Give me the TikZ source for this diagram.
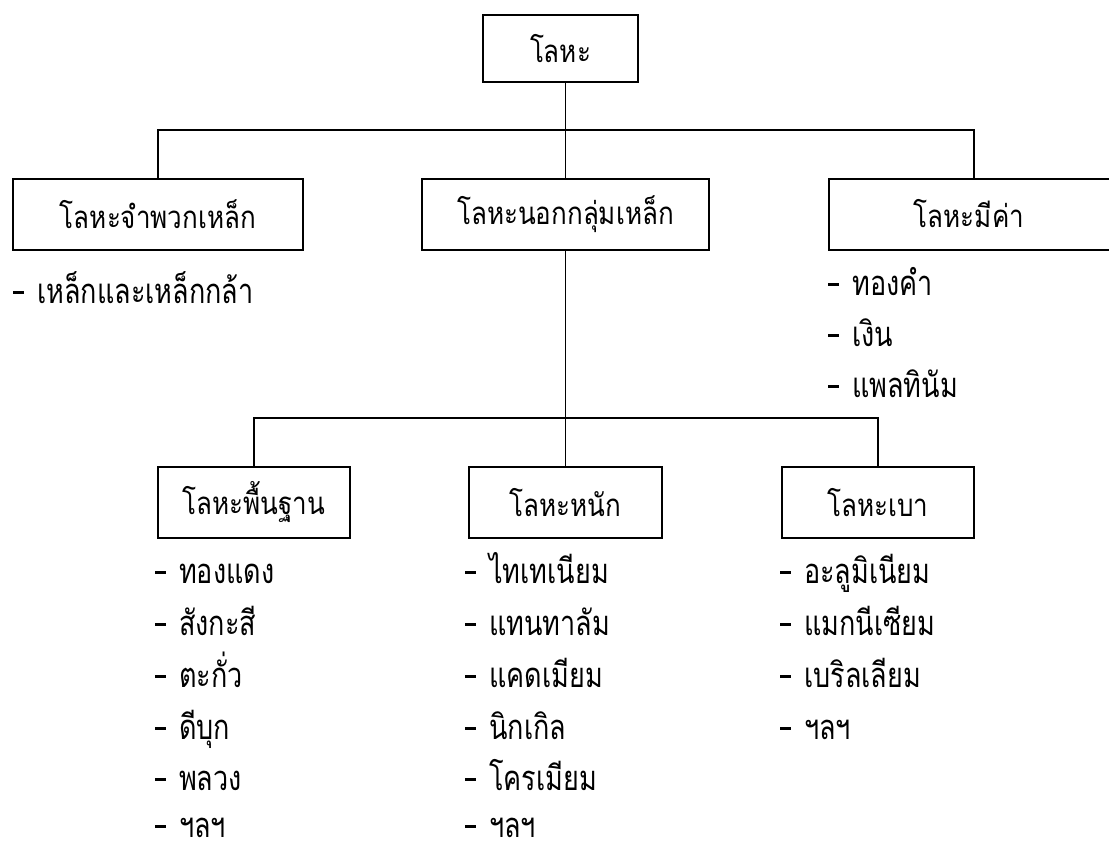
\documentclass[tikz,border=0pt]{standalone}
\usepackage{fontspec}
\usepackage{graphicx}
\newfontfamily\thai[Script=Thai]{Loma}
\newcommand{\tallbox}[1]{\scalebox{1}[1.2]{#1}}
\newcommand{\tallitem}[1]{\scalebox{1}[1.28]{\rule[7.4pt]{11pt}{1.6pt}\hspace{13pt}#1}}
\begin{document}
\begin{tikzpicture}[x=1pt,y=-1pt,
  box/.style={draw,line width=2pt,rectangle,inner sep=0pt,font=\thai\fontsize{26}{30}\selectfont,minimum height=71pt},
  item/.style={anchor=base west,inner sep=0pt,font=\thai\fontsize{27}{30}\selectfont},
  link/.style={line width=1.8pt}]
\useasboundingbox (0,0) rectangle (1109,846);
\clip (0,0) rectangle (1109,846);
\fill[white] (0,0) rectangle (1109,846);
% level 0
\node[box,minimum width=155pt,minimum height=67pt] (top) at (560.5,48.5) {\tallbox{โลหะ}};
% level 1
\node[box,minimum width=290pt] (l1) at (158,214) {\tallbox{โลหะจำพวกเหล็ก}};
\node[box,minimum width=287pt] (m1) at (565.5,214) {\tallbox{โลหะนอกกลุ่มเหล็ก}};
\node[box,minimum width=290pt] (r1) at (974,214) {\hspace*{-10pt}\tallbox{โลหะมีค่า}};
\coordinate (h1) at (0,130);
\draw[link] (top.south -| m1.north) -- (m1.north);
\draw[link] (l1.north) -- (l1.north |- h1) -- (r1.north |- h1) -- (r1.north);
% level 2
\node[box,minimum width=192pt] (l2) at (254,502.5) {\tallbox{โลหะพื้นฐาน}};
\node[box,minimum width=193pt] (m2) at (565.5,502.5) {\tallbox{โลหะหนัก}};
\node[box,minimum width=192pt] (r2) at (878,502.5) {\tallbox{โลหะเบา}};
\coordinate (h2) at (0,418);
\draw[link] (m1.south) -- (m2.north);
\draw[link] (l2.north) -- (l2.north |- h2) -- (r2.north |- h2) -- (r2.north);
% lists
\node[item] (a1) at (13,303) {\tallitem{เหล็กและเหล็กกล้า}};
\node[item] (c1) at (828,295) {\tallitem{ทองคำ}};
\node[item] (c2) at (828,346) {\tallitem{เงิน}};
\node[item] (c3) at (828,397) {\tallitem{แพลทินัม}};
\node[item] (d1) at (155,583) {\tallitem{ทองแดง}};
\node[item] (d2) at (155,635) {\tallitem{สังกะสี}};
\node[item] (d3) at (155,687) {\tallitem{ตะกั่ว}};
\node[item] (d4) at (155,739) {\tallitem{ดีบุก}};
\node[item] (d5) at (155,790) {\tallitem{พลวง}};
\node[item] (d6) at (155,837) {\tallitem{ฯลฯ}};
\node[item] (e1) at (465,583) {\tallitem{ไทเทเนียม}};
\node[item] (e2) at (465,635) {\tallitem{แทนทาลัม}};
\node[item] (e3) at (465,687) {\tallitem{แคดเมียม}};
\node[item] (e4) at (465,739) {\tallitem{นิกเกิล}};
\node[item] (e5) at (465,790) {\tallitem{โครเมียม}};
\node[item] (e6) at (465,837) {\tallitem{ฯลฯ}};
\node[item] (f1) at (780,583) {\tallitem{อะลูมิเนียม}};
\node[item] (f2) at (780,635) {\tallitem{แมกนีเซียม}};
\node[item] (f3) at (780,687) {\tallitem{เบริลเลียม}};
\node[item] (f4) at (780,739) {\tallitem{ฯลฯ}};
\end{tikzpicture}
\end{document}
